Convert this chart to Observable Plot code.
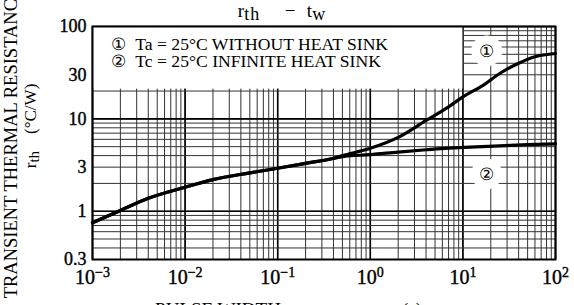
<!DOCTYPE html>
<html><head><meta charset="utf-8">
<script src="https://cdn.jsdelivr.net/npm/d3@7"></script>
<script src="https://cdn.jsdelivr.net/npm/@observablehq/plot@0.6"></script>
<style>
body{margin:0;background:#fff}
svg{display:block}
</style>
</head><body><div id="chart"></div>
<script>
// Curve ① : Ta = 25°C without heat sink
const pulseWidth1 = [0.001, 0.002, 0.004, 0.01, 0.02, 0.05, 0.1, 0.2, 0.4, 0.5, 1, 2, 4, 7, 10, 17, 25, 40, 60, 100];
const rth1 = [0.75, 1.02, 1.38, 1.82, 2.2, 2.6, 2.92, 3.3, 3.75, 4.0, 4.8, 6.3, 9.6, 13.5, 17.3, 23.5, 31, 40, 47, 51];
// Curve ② : Tc = 25°C infinite heat sink
const pulseWidth2 = [0.001, 0.002, 0.004, 0.01, 0.02, 0.05, 0.1, 0.2, 0.4, 0.5, 1, 2, 4, 7, 12, 25, 50, 100];
const rth2 = [0.75, 1.02, 1.38, 1.82, 2.2, 2.6, 2.92, 3.3, 3.72, 3.9, 4.1, 4.37, 4.63, 4.83, 4.95, 5.1, 5.25, 5.37];

const xTicks = [1e-3, 1e-2, 1e-1, 1e0, 1e1, 1e2];
const xTickExponents = ["−3", "−2", "−1", "0", "1", "2"];
const yTicks = [0.3, 1, 3, 10, 30, 100];
const yTickLabels = ["0.3", "1", "3", "10", "30", "100"];
const yDecades = [1, 10, 100];
const minorSteps = [1, 2, 3, 4, 5, 6, 7, 8, 9];

const legendMarks = ["①", "②"];
const legendTexts = ["Ta = 25°C WITHOUT HEAT SINK", "Tc = 25°C INFINITE HEAT SINK"];
const legendMarkX = [0.0019, 0.0019];
const legendTextX = [0.0029, 0.0029];
const legendY = [64, 41.5];
const legendBox = [{x1: 0.001, x2: 10, y1: 21, y2: 100}];

const curveLabels = ["①", "②"];
const curveLabelX = [18, 18];
const curveLabelY = [54, 2.5];

const titleMain = ["r", "th", "−", "t", "w"];
const yTitle = "TRANSIENT THERMAL RESISTANCE";
const yUnit = ["r", "th", "    (°C/W)"];
const xTitle = ["PULSE WIDTH", "t", "w", "(s)"];

// grid values (log minor grid)
const xGrid = [];
for (let e = -3; e < 2; e++) for (const m of minorSteps) xGrid.push(m * 10 ** e);
xGrid.push(100);
const yGrid = [];
for (let e = -1; e < 2; e++) for (const m of minorSteps) { const v = m * 10 ** e; if (v >= 0.3 - 1e-9) yGrid.push(v); }
yGrid.push(100);

const series1 = pulseWidth1.map((x, i) => ({x, y: rth1[i]}));
const series2 = pulseWidth2.map((x, i) => ({x, y: rth2[i]}));
const legend = legendTexts.map((t, i) => ({t, m: legendMarks[i], xm: legendMarkX[i], xt: legendTextX[i], y: legendY[i]}));
const cLabels = curveLabels.map((t, i) => ({t, x: curveLabelX[i], y: curveLabelY[i]}));
const yLabelData = yTicks.map((v, i) => ({v, t: yTickLabels[i]}));

const serif = "Liberation Serif";

const svg = Plot.plot({
  width: 574, height: 305,
  marginLeft: 92, marginRight: 19, marginTop: 26, marginBottom: 46,
  x: {type: "log", domain: [1e-3, 1e2], axis: null},
  y: {type: "log", domain: [0.3, 100], axis: null},
  style: {fontFamily: serif, fontSize: "16px", color: "black", background: "white"},
  marks: [
    Plot.ruleX(xGrid, {stroke: "#333", strokeWidth: 1}),
    Plot.ruleX(xTicks, {stroke: "#000", strokeWidth: 1.6}),
    Plot.ruleY(yGrid, {stroke: "#333", strokeWidth: 1}),
    Plot.ruleY(yDecades, {stroke: "#000", strokeWidth: 1.6}),
    Plot.rect(legendBox, {x1: "x1", x2: "x2", y1: "y1", y2: "y2", fill: "white"}),
    Plot.line(series1, {x: "x", y: "y", stroke: "black", strokeWidth: 3.2, curve: "monotone-x"}),
    Plot.line(series2, {x: "x", y: "y", stroke: "black", strokeWidth: 3.2, curve: "monotone-x"}),
    Plot.text(cLabels, {x: "x", y: "y", text: "t", fill: "black", stroke: "white", strokeWidth: 18, fontSize: 17}),
    Plot.text(legend, {x: "xm", y: "y", text: "m", fill: "black", fontSize: 17}),
    Plot.text(legend, {x: "xt", y: "y", text: "t", fill: "black", textAnchor: "start", fontSize: 17.6, fontFamily: serif}),
    Plot.frame({stroke: "black", strokeWidth: 2}),
    Plot.text(xTicks, {x: d => d, text: d => "10^" + xTickExponents[xTicks.indexOf(d)], frameAnchor: "bottom", lineAnchor: "top", dy: 10, fill: "black", stroke: "black", strokeWidth: 0.4, fontSize: 20, fontFamily: serif}),
    Plot.text(yLabelData, {y: "v", text: "t", frameAnchor: "left", textAnchor: "end", dx: -6, fill: "black", stroke: "black", strokeWidth: 0.4, fontSize: 18, fontFamily: serif})
  ]
});

const root = d3.select(svg);
// superscripts for x tick labels
root.selectAll("text").each(function () {
  if (!this.textContent.includes("^")) return;
  const parts = this.textContent.split("^");
  const s = d3.select(this);
  s.text(parts[0]);
  s.append("tspan").attr("dy", "-0.45em").attr("font-size", "0.7em").text(parts[1]);
});

// title
const tt = root.append("text").attr("y", 17)
  .attr("font-family", serif).attr("font-size", 19).attr("fill", "black");
tt.append("tspan").attr("x", 249).text(titleMain[0]);
tt.append("tspan").attr("dy", 3).attr("font-size", 18).attr("letter-spacing", 1).text(titleMain[1]);
tt.append("tspan").attr("x", 290).attr("dy", -3).text(titleMain[2]);
tt.append("tspan").attr("x", 316).text(titleMain[3]);
tt.append("tspan").attr("dy", 3).attr("font-size", 18).text(titleMain[4]);

// y title
root.append("text").attr("transform", "translate(17,143) rotate(-90)").attr("text-anchor", "middle")
  .attr("font-family", serif).attr("font-size", 18.5).attr("fill", "black").text(yTitle);
const yu = root.append("text").attr("transform", "translate(36,126) rotate(-90)").attr("text-anchor", "middle")
  .attr("font-family", serif).attr("font-size", 17).attr("fill", "black").attr("xml:space", "preserve");
yu.append("tspan").text(yUnit[0]);
yu.append("tspan").attr("dy", 3).attr("font-size", 15).text(yUnit[1]);
yu.append("tspan").attr("dy", -3).text(yUnit[2]);

// x title (mostly below the visible area, as in the reference)
const xt = root.append("text").attr("y", 316)
  .attr("font-family", serif).attr("font-size", 19).attr("fill", "black").attr("xml:space", "preserve");
xt.append("tspan").attr("x", 218).text(xTitle[0]);
xt.append("tspan").attr("x", 394).text(xTitle[1]);
xt.append("tspan").attr("dy", 3).attr("font-size", 15).text(xTitle[2]);
xt.append("tspan").attr("dy", -3).attr("x", 412).text(xTitle[3]);

document.getElementById("chart").appendChild(svg);
</script>
</body></html>
